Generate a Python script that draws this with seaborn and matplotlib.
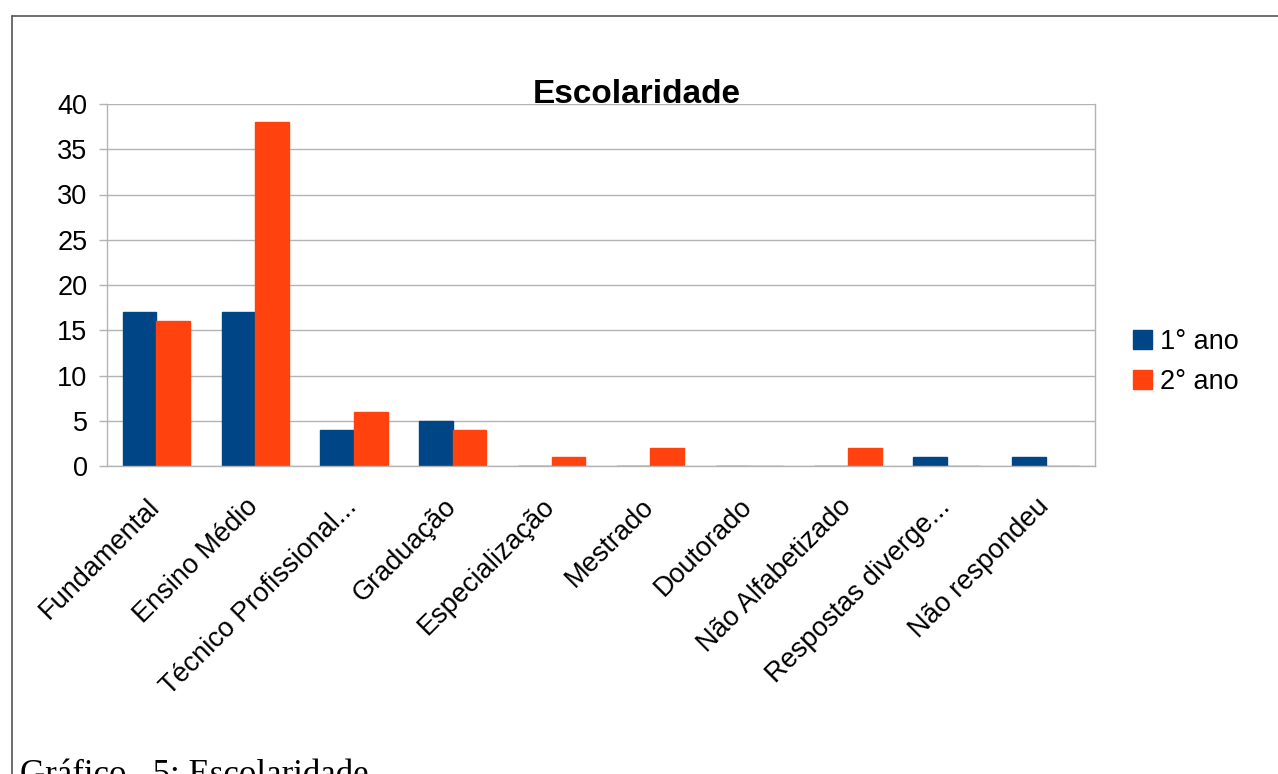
import matplotlib
matplotlib.use("Agg")
import matplotlib.pyplot as plt
from matplotlib.lines import Line2D
import matplotlib.transforms as mtransforms
import numpy as np
import pandas as pd
import seaborn as sns

# Education level counts per school year
categorias = ["Fundamental", "Ensino Médio", "Técnico Profissional...", "Graduação",
              "Especialização", "Mestrado", "Doutorado", "Não Alfabetizado",
              "Respostas diverge...", "Não respondeu"]
serie_1 = [17, 17, 4, 5, 0, 0, 0, 0, 1, 1]
serie_2 = [16, 38, 6, 4, 1, 2, 0, 2, 0, 0]
nomes_series = ["1° ano", "2° ano"]
yticks = [0, 5, 10, 15, 20, 25, 30, 35, 40]

cores = ["#004586", "#ff420e"]

df = pd.DataFrame({
    "Categoria": categorias * 2,
    "Valor": serie_1 + serie_2,
    "Série": [nomes_series[0]] * len(categorias) + [nomes_series[1]] * len(categorias),
})

sns.set_theme(style="white")
plt.rcParams["font.family"] = ["Liberation Sans", "DejaVu Sans"]
plt.rcParams["text.color"] = "black"
plt.rcParams["xtick.color"] = "black"
plt.rcParams["ytick.color"] = "black"

W, H = 1278, 774
fig = plt.figure(figsize=(W / 100, H / 100), dpi=100)
ax = fig.add_axes([107 / W, 1 - 466 / H, (1095 - 107) / W, (466 - 104) / H])

sns.barplot(data=df, x="Categoria", y="Valor", hue="Série", palette=cores,
            width=0.68, saturation=1, ax=ax, legend=False)

# outline each bar in its own colour so zero values show as a thin line
for p in ax.patches:
    p.set_edgecolor(p.get_facecolor())
    p.set_linewidth(1.0)

grid_c = "#b3b3b3"
ax.set_ylim(0, 40)
ax.set_xlim(-0.5, len(categorias) - 0.5)
ax.set_yticks(yticks)
ax.set_yticklabels([str(v) for v in yticks], fontsize=19.5)
ax.yaxis.grid(True, color=grid_c, linewidth=1)
ax.set_axisbelow(True)

ax.set_xticks(range(len(categorias)))
ax.set_xticklabels(categorias, rotation=45, ha="right", rotation_mode="anchor", fontsize=19.5)
ax.set_xticks(np.arange(-0.5, len(categorias), 1.0), minor=True)
ax.tick_params(axis="x", which="major", length=0, pad=20)
ax.tick_params(axis="x", which="minor", length=8, width=1, color=grid_c, direction="out")
ax.tick_params(axis="y", which="major", length=6, width=1, color=grid_c, direction="out",
               left=True, pad=8)
ax.set_xlabel("")
ax.set_ylabel("")

# nudge the slanted category labels a little to the left
shift = mtransforms.ScaledTranslation(-10 / 100, 0, fig.dpi_scale_trans)
for lbl in ax.get_xticklabels():
    lbl.set_transform(lbl.get_transform() + shift)

for side in ["left", "right", "bottom"]:
    ax.spines[side].set_color(grid_c)
    ax.spines[side].set_linewidth(1)
ax.spines["top"].set_visible(False)

# legend
handles = [plt.Rectangle((0, 0), 1, 1, facecolor=c, edgecolor=c) for c in cores]
fig.legend(handles, nomes_series, loc="center left",
           bbox_to_anchor=(1119 / W, 1 - 362 / H), frameon=False, fontsize=19.5,
           handlelength=0.7, handleheight=0.7, handletextpad=0.3, labelspacing=0.52,
           borderpad=0)

# title
fig.text(637 / W, 1 - 103 / H, "Escolaridade", ha="center", va="baseline",
         fontsize=24, fontweight="bold")

# page frame and caption
frame_c = "#555555"
fig.add_artist(Line2D([12 / W, 1.0], [1 - 16 / H, 1 - 16 / H], color=frame_c, lw=1.2,
                      transform=fig.transFigure))
fig.add_artist(Line2D([12 / W, 12 / W], [0, 1 - 16 / H], color=frame_c, lw=1.2,
                      transform=fig.transFigure))
fig.text(20 / W, 1 - 784 / H, "Gráfico   5: Escolaridade", ha="left", va="baseline",
         fontsize=25, family=["Liberation Serif", "DejaVu Serif"])

fig.savefig("out.png", dpi=100, facecolor="white")
